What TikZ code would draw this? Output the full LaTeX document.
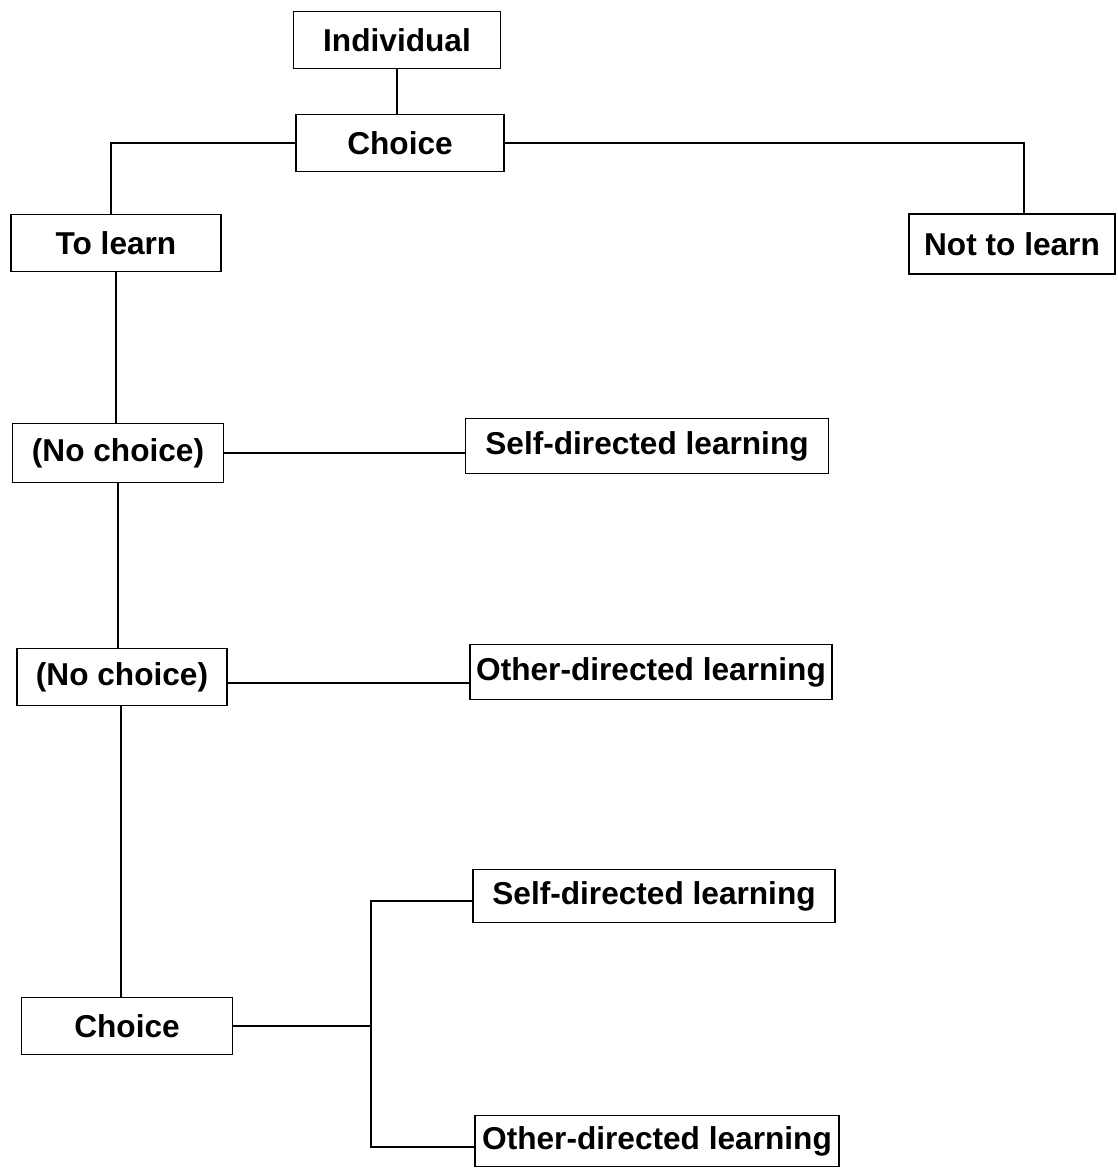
\documentclass[tikz,border=0pt]{standalone}
\usepackage{fontspec}
\setmainfont{Liberation Sans}
\tikzset{box/.style={draw,line width=0.9pt,inner sep=0pt,minimum height=1.14cm,font=\bfseries\fontsize{18}{20}\selectfont}}
\begin{document}
\begin{tikzpicture}[x=0.02cm,y=-0.02cm,line width=0.9pt]
\useasboundingbox (0,0) rectangle (1117,1169);
\pgfmathsetmacro{\kjx}{371}
% top of the tree
\node[box,minimum width=4.14cm](ind) at (397,40){Individual};
\node[box,minimum width=4.16cm](ch) at (400,143){Choice};
\node[box,minimum width=4.2cm](tl) at (116,243){To learn};
\node[box,minimum width=4.12cm,minimum height=1.2cm](ntl) at (1012,244){Not to learn};
% left column
\node[box,minimum width=4.22cm,minimum height=1.18cm](nc1) at (118,453){(No choice)};
\node[box,minimum width=4.2cm](nc2) at (122,677){(No choice)};
\node[box,minimum width=4.22cm](chb) at (127,1026){Choice};
% right column
\node[box,minimum width=7.26cm,minimum height=1.1cm](sdl1) at (647,446){Self-directed learning};
\node[box,minimum width=7.24cm,minimum height=1.1cm](odl1) at (651,672){Other-directed learning};
\node[box,minimum width=7.24cm,minimum height=1.06cm](sdl2) at (654,896){Self-directed learning};
\node[box,minimum width=7.28cm,minimum height=1.02cm](odl2) at (657,1141){Other-directed learning};
% connectors
\draw(ind.south)--(ind.south|-ch.north);
\draw(ch.west)-|([xshift=-0.1cm]tl.north);
\draw(ch.east)-|([xshift=0.24cm]ntl.north);
\draw(tl.south)--(tl.south|-nc1.north);
\draw(nc1.east)--(nc1.east-|sdl1.west);
\draw(nc1.south)--(nc1.south|-nc2.north);
\draw([yshift=-0.12cm]nc2.east)--([yshift=-0.12cm]nc2.east-|odl1.west);
\draw([xshift=-0.02cm]nc2.south)--([xshift=-0.02cm]nc2.south|-chb.north);
\coordinate(jn) at (\kjx,1026);
\draw(chb.east)--(jn);
\draw([yshift=-0.1cm]sdl2.west)-|(jn);
\draw(jn)|-([yshift=-0.12cm]odl2.west);
\end{tikzpicture}
\end{document}
